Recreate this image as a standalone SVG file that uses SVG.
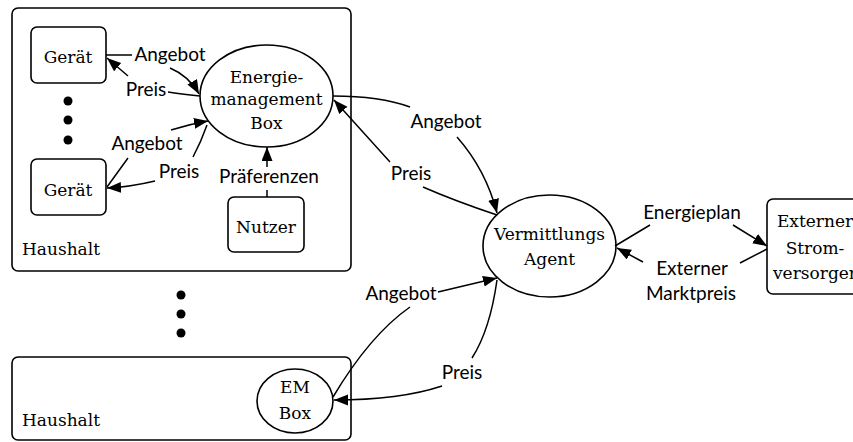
<svg xmlns="http://www.w3.org/2000/svg" width="853" height="442" viewBox="0 0 853 442">
<style>
.box{fill:#fff;stroke:#000;stroke-width:1.6}
.grp{fill:none;stroke:#000;stroke-width:1.6}
.ell{fill:#fff;stroke:#000;stroke-width:1.6}
.node{font-family:"DejaVu Serif","Liberation Serif",serif;font-size:17px;fill:#000;text-anchor:middle}
.grpl{font-family:"DejaVu Serif","Liberation Serif",serif;font-size:17px;fill:#000}
.lbl{font-family:Lato,"Liberation Sans",sans-serif;font-size:19px;fill:#000;text-anchor:middle}
.edge{fill:none;stroke:#000;stroke-width:1.5;marker-end:url(#arr)}
.dot{fill:#000}
</style>
<defs>
<marker id="arr" markerUnits="userSpaceOnUse" markerWidth="16" markerHeight="13" refX="14" refY="5.5" orient="auto">
<path d="M0,0 L14,5.5 L0,11 z" fill="#000"/>
</marker>
</defs>
<g id="haushalt1">
<rect class="grp" x="12" y="8" width="339" height="263" rx="6"/>
<text class="grpl" x="22" y="255">Haushalt</text>
</g>
<g id="haushalt2">
<rect class="grp" x="12" y="357" width="339" height="83" rx="6"/>
<text class="grpl" x="22" y="426">Haushalt</text>
</g>
<g id="dots1">
<circle class="dot" cx="68" cy="101" r="4.5"/>
<circle class="dot" cx="68" cy="120" r="4.5"/>
<circle class="dot" cx="68" cy="140" r="4.5"/>
</g>
<g id="dots2">
<circle class="dot" cx="181" cy="295" r="4.5"/>
<circle class="dot" cx="181" cy="314" r="4.5"/>
<circle class="dot" cx="181" cy="333" r="4.5"/>
</g>
<g id="geraet1">
<rect class="box" x="31" y="27" width="75" height="56" rx="6"/>
<text class="node" x="68" y="63">Gerät</text>
</g>
<g id="geraet2">
<rect class="box" x="31" y="159" width="75" height="56" rx="6"/>
<text class="node" x="68" y="196">Gerät</text>
</g>
<g id="nutzer">
<rect class="box" x="228" y="197" width="76" height="55" rx="6"/>
<text class="node" x="266" y="233">Nutzer</text>
</g>
<g id="energiebox">
<ellipse class="ell" cx="266.5" cy="96" rx="66.5" ry="51"/>
<text class="node" x="266.5" y="83">Energie-</text>
<text class="node" x="266.5" y="105">management</text>
<text class="node" x="266.5" y="129">Box</text>
</g>
<g id="agent">
<ellipse class="ell" cx="549.5" cy="246" rx="66.5" ry="51"/>
<text class="node" x="549.5" y="240">Vermittlungs</text>
<text class="node" x="549.5" y="265">Agent</text>
</g>
<g id="emBox">
<ellipse class="ell" cx="295" cy="401" rx="38" ry="32"/>
<text class="node" x="295" y="393">EM</text>
<text class="node" x="295" y="419">Box</text>
</g>
<g id="versorger">
<rect class="box" x="767" y="199" width="96" height="95" rx="6"/>
<text class="node" x="815" y="227">Externer</text>
<text class="node" x="815" y="254">Strom-</text>
<text class="node" x="815" y="279">versorger</text>
</g>
<g id="connectors">
<path class="edge" d="M106,55 L132,55 M170,68 Q189,76 199,94"/>
<path class="edge" d="M200,96 C190,95 180,94 168,92 M128,76 L107,58"/>
<path class="edge" d="M107,187 L128,158 M171,130 Q190,124 208,121"/>
<path class="edge" d="M207,125 Q201,142 193,157 M155,181 Q130,187 107,188"/>
<path class="edge" d="M267,197 L267,190 M267,167 L267,147"/>
<path class="edge" d="M333,96 Q380,96 410,107 M457,137 Q486,170 497,213"/>
<path class="edge" d="M497,215 Q455,201 423,187 M390,162 L334,100"/>
<path class="edge" d="M615,246 L650,225 M733,225 L767,246"/>
<path class="edge" d="M767,249 L740,263 M643,262 L617,248"/>
<path class="edge" d="M333,397 Q370,335 410,307 M438,292 L497,278"/>
<path class="edge" d="M497,280 Q490,330 472,358 M442,386 Q400,400 334,400"/>
</g>
<g id="labels">
<text class="lbl" x="170" y="61">Angebot</text>
<text class="lbl" x="146" y="96">Preis</text>
<text class="lbl" x="147" y="150">Angebot</text>
<text class="lbl" x="179" y="178">Preis</text>
<text class="lbl" x="269" y="183">Präferenzen</text>
<text class="lbl" x="446" y="128">Angebot</text>
<text class="lbl" x="411" y="180">Preis</text>
<text class="lbl" x="692" y="219">Energieplan</text>
<text class="lbl" x="692" y="275">Externer</text>
<text class="lbl" x="691" y="300">Marktpreis</text>
<text class="lbl" x="401" y="300">Angebot</text>
<text class="lbl" x="462" y="379">Preis</text>
</g>
</svg>
